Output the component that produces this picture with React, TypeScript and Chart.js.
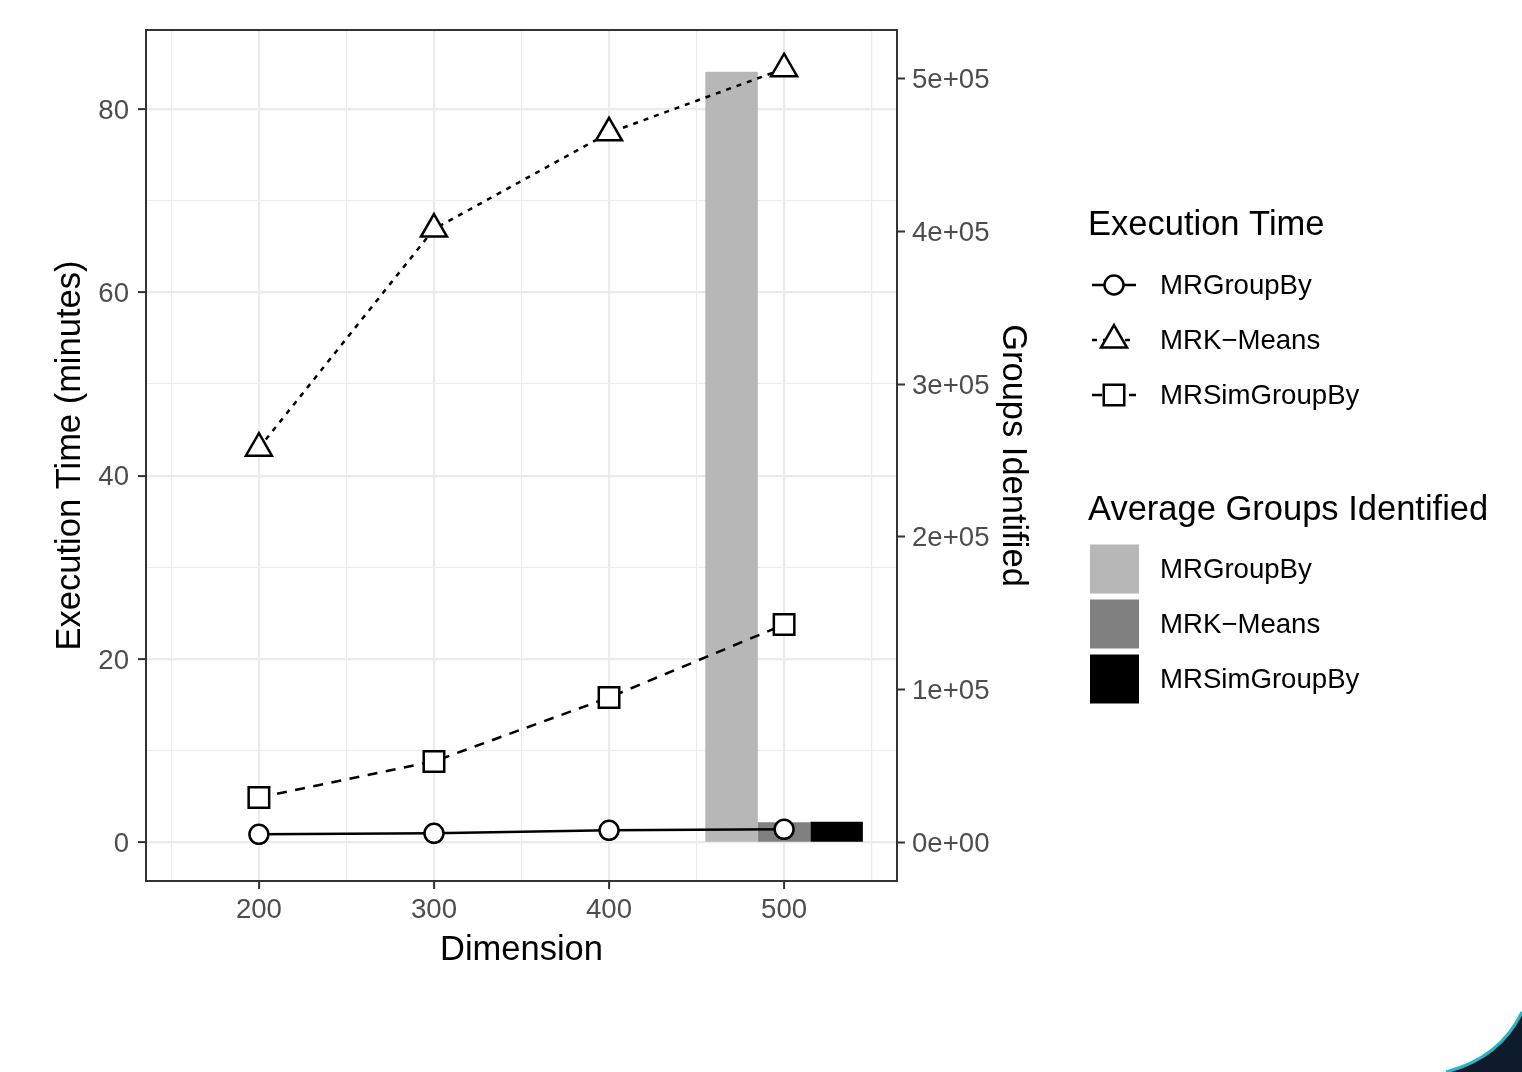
import React, { useEffect, useRef } from 'react';
import { Chart, registerables } from 'chart.js';

Chart.register(...registerables);

const FONT = '"Liberation Sans", Arial, sans-serif';
Chart.defaults.font.family = FONT;

// Execution time (minutes) per dimension
const dimensions = [200, 300, 400, 500];
const timeMRGroupBy = [0.87, 0.98, 1.31, 1.42];
const timeMRKMeans = [43.0, 66.9, 77.4, 84.4];
const timeMRSimGroupBy = [4.9, 8.83, 15.8, 23.76];

// Average groups identified (only measured at dimension 500)
const groupsDimension = 500;
const groupsMRGroupBy = 504400;
const groupsMRKMeans = 13080;
const groupsMRSimGroupBy = 13540;

// Secondary axis: groups = minutes * groupsPerMinute
const groupsPerMinute = 6000;

const methodNames = ['MRGroupBy', 'MRK\u2212Means', 'MRSimGroupBy'];

// Axis ranges and ticks
const xRange = [135.5, 564.5];
const yRange = [-4.22, 88.62];
const xTicks = [200, 300, 400, 500];
const xMinorTicks = [150, 250, 350, 450, 550];
const yTicks = [0, 20, 40, 60, 80];
const yMinorTicks = [10, 30, 50, 70];
const y2Ticks = [0, 100000, 200000, 300000, 400000, 500000];

const GRID = '#EBEBEB';
const AXIS = '#333333';
const TICK_TEXT = '#4D4D4D';
const LINE_W = 2.5;

const lineStyles = [
  { pointStyle: 'circle', radius: 9.5, dash: [] as number[] },
  { pointStyle: 'triangle', radius: 15, dash: [5, 6] },
  { pointStyle: 'rect', radius: 14.5, dash: [10, 8.5] },
];
const barColors = ['#B7B7B7', '#808080', '#000000'];

const sci = (v: number) => {
  if (v === 0) return '0e+00';
  const e = Math.floor(Math.log10(Math.abs(v)));
  const m = Math.round((v / Math.pow(10, e)) * 100) / 100;
  return `${m}e${e >= 0 ? '+' : '-'}${String(Math.abs(e)).padStart(2, '0')}`;
};

const isMajorY = (v: number) => yTicks.includes(v);

function drawMarker(ctx: CanvasRenderingContext2D, style: string, x: number, y: number, r: number) {
  ctx.beginPath();
  if (style === 'circle') {
    ctx.arc(x, y, r, 0, Math.PI * 2);
  } else if (style === 'triangle') {
    let rad = 0;
    ctx.moveTo(x + Math.sin(rad) * r, y - Math.cos(rad) * r);
    rad += (2 * Math.PI) / 3;
    ctx.lineTo(x + Math.sin(rad) * r, y - Math.cos(rad) * r);
    rad += (2 * Math.PI) / 3;
    ctx.lineTo(x + Math.sin(rad) * r, y - Math.cos(rad) * r);
    ctx.closePath();
  } else {
    const s = Math.SQRT1_2 * r;
    ctx.rect(x - s, y - s, 2 * s, 2 * s);
  }
  ctx.fillStyle = '#fff';
  ctx.fill();
  ctx.lineWidth = LINE_W;
  ctx.strokeStyle = '#000';
  ctx.stroke();
}

const panelPlugin = {
  id: 'panelDecor',
  beforeDatasetsDraw(chart: any) {
    // minor vertical grid lines
    const { ctx, chartArea } = chart;
    const xs = chart.scales.x;
    ctx.save();
    ctx.strokeStyle = GRID;
    ctx.lineWidth = 1.1;
    xMinorTicks.forEach((v) => {
      const px = xs.getPixelForValue(v);
      ctx.beginPath();
      ctx.moveTo(px, chartArea.top);
      ctx.lineTo(px, chartArea.bottom);
      ctx.stroke();
    });
    ctx.restore();
  },
  afterDatasetsDraw(chart: any) {
    const { ctx, chartArea } = chart;
    ctx.save();
    ctx.strokeStyle = AXIS;
    ctx.lineWidth = 2;
    ctx.strokeRect(chartArea.left, chartArea.top, chartArea.right - chartArea.left, chartArea.bottom - chartArea.top);
    ctx.restore();
  },
  afterDraw(chart: any) {
    const ctx: CanvasRenderingContext2D = chart.ctx;
    ctx.save();
    ctx.textAlign = 'left';
    ctx.textBaseline = 'middle';

    // legend: execution time
    ctx.fillStyle = '#000';
    ctx.font = `34.5px ${FONT}`;
    ctx.fillText('Execution Time', 1088, 225);
    lineStyles.forEach((s, i) => {
      const y = 285 + i * 55;
      ctx.strokeStyle = '#000';
      ctx.lineWidth = LINE_W;
      ctx.setLineDash(s.dash);
      ctx.beginPath();
      ctx.moveTo(1092, y);
      ctx.lineTo(1136, y);
      ctx.stroke();
      ctx.setLineDash([]);
      drawMarker(ctx, s.pointStyle, 1114, y, s.radius);
      ctx.fillStyle = '#000';
      ctx.font = `27.6px ${FONT}`;
      ctx.fillText(methodNames[i], 1160, y + 1);
    });

    // legend: average groups identified
    ctx.font = `34.5px ${FONT}`;
    ctx.fillText('Average Groups Identified', 1088, 510);
    barColors.forEach((c, i) => {
      const top = 544.5 + i * 55;
      ctx.fillStyle = c;
      ctx.fillRect(1090, top, 49, 49);
      ctx.fillStyle = '#000';
      ctx.font = `27.6px ${FONT}`;
      ctx.fillText(methodNames[i], 1160, top + 26);
    });

    // corner ornament
    ctx.beginPath();
    ctx.moveTo(1522, 1012);
    ctx.quadraticCurveTo(1500, 1058, 1446, 1072);
    ctx.lineTo(1522, 1072);
    ctx.closePath();
    ctx.fillStyle = '#0D1B2A';
    ctx.fill();
    ctx.beginPath();
    ctx.moveTo(1522, 1012);
    ctx.quadraticCurveTo(1500, 1058, 1446, 1072);
    ctx.strokeStyle = '#2BB3C4';
    ctx.lineWidth = 3;
    ctx.stroke();
    ctx.restore();
  },
};

export default function App() {
  const ref = useRef<HTMLCanvasElement>(null);

  useEffect(() => {
    if (!ref.current) return;
    const times = [timeMRGroupBy, timeMRKMeans, timeMRSimGroupBy];
    const groups = [groupsMRGroupBy, groupsMRKMeans, groupsMRSimGroupBy];

    const lineSets = times.map((arr, i) => ({
      type: 'line' as const,
      label: methodNames[i],
      data: dimensions.map((d, k) => ({ x: d, y: arr[k] })),
      xAxisID: 'x',
      yAxisID: 'y',
      borderColor: '#000',
      borderWidth: LINE_W,
      borderDash: lineStyles[i].dash,
      pointStyle: lineStyles[i].pointStyle,
      pointRadius: lineStyles[i].radius,
      pointBorderWidth: LINE_W,
      pointBackgroundColor: '#fff',
      pointBorderColor: '#000',
      tension: 0,
      fill: false,
      order: 1,
    }));

    const barSets = groups.map((g, i) => ({
      type: 'bar' as const,
      label: methodNames[i],
      data: [{ x: groupsDimension, y: g }],
      xAxisID: 'x',
      yAxisID: 'y2',
      backgroundColor: barColors[i],
      borderWidth: 0,
      categoryPercentage: 0.9,
      barPercentage: 1,
      order: 2,
    }));

    const chart = new Chart(ref.current, {
      type: 'line',
      data: { datasets: [...barSets, ...lineSets] as any },
      options: {
        animation: false,
        responsive: true,
        maintainAspectRatio: false,
        layout: { padding: { left: 0, top: 30, right: 482, bottom: 91 } },
        plugins: { legend: { display: false }, tooltip: { enabled: false } },
        scales: {
          x: {
            type: 'linear',
            position: 'bottom',
            offset: false,
            min: xRange[0],
            max: xRange[1],
            afterBuildTicks: (s: any) => { s.ticks = xTicks.map((value) => ({ value })); },
            ticks: {
              color: TICK_TEXT,
              font: { size: 27.6 },
              padding: 5,
              maxRotation: 0,
              autoSkip: false,
              callback: (v: any) => String(v),
            },
            grid: { offset: false, color: GRID, lineWidth: 2.2, tickColor: AXIS, tickLength: 8, tickWidth: 2 },
            border: { display: false },
            title: {
              display: true,
              text: 'Dimension',
              color: '#000',
              font: { size: 34.5 },
              padding: { top: 0, bottom: 10.3 },
            },
            afterFit: (s: any) => { s.height = 100; },
          },
          y: {
            type: 'linear',
            position: 'left',
            min: yRange[0],
            max: yRange[1],
            afterBuildTicks: (s: any) => {
              s.ticks = [...yTicks, ...yMinorTicks].sort((a, b) => a - b).map((value) => ({ value }));
            },
            ticks: {
              color: TICK_TEXT,
              font: { size: 27.6 },
              padding: 9,
              labelOffset: 2,
              autoSkip: false,
              callback: (v: any) => (isMajorY(Number(v)) ? String(v) : ''),
            },
            grid: {
              color: GRID,
              lineWidth: (c: any) => (c.tick && isMajorY(c.tick.value) ? 2.2 : 1.1),
              tickColor: (c: any) => (c.tick && isMajorY(c.tick.value) ? AXIS : 'rgba(0,0,0,0)'),
              tickLength: 8,
              tickWidth: 2,
            },
            border: { display: false },
            title: {
              display: true,
              text: 'Execution Time (minutes)',
              color: '#000',
              font: { size: 34.5 },
              padding: { top: 49.3, bottom: 0 },
            },
            afterFit: (s: any) => { s.width = 146; },
          },
          y2: {
            type: 'linear',
            position: 'right',
            stacked: false,
            min: yRange[0] * groupsPerMinute,
            max: yRange[1] * groupsPerMinute,
            afterBuildTicks: (s: any) => { s.ticks = y2Ticks.map((value) => ({ value })); },
            ticks: {
              color: TICK_TEXT,
              font: { size: 27.6 },
              padding: 7,
              labelOffset: 2,
              autoSkip: false,
              callback: (v: any) => sci(Number(v)),
            },
            grid: { drawOnChartArea: false, tickColor: AXIS, tickLength: 8, tickWidth: 2 },
            border: { display: false },
            title: {
              display: true,
              text: 'Groups Identified',
              color: '#000',
              font: { size: 34.5 },
              padding: { top: 6.3, bottom: 0 },
            },
            afterFit: (s: any) => { s.width = 143; },
          },
        },
      } as any,
      plugins: [panelPlugin],
    });

    return () => chart.destroy();
  }, []);

  return (
    <div style={{ position: 'absolute', left: 0, top: 0, width: 1522, height: 1072, background: '#fff' }}>
      <canvas ref={ref} />
    </div>
  );
}
